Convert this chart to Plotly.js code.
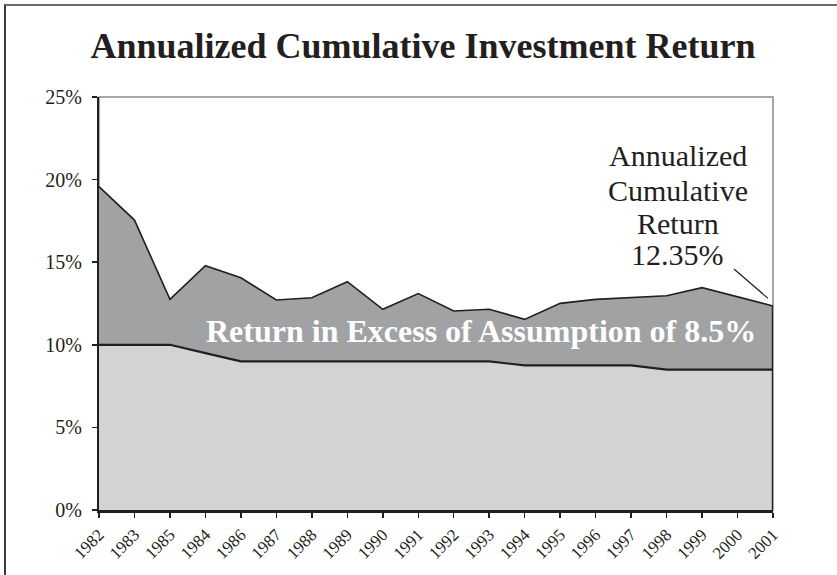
<!DOCTYPE html>
<html>
<head>
<meta charset="utf-8">
<script src="https://cdn.plot.ly/plotly-3.0.1.min.js"></script>
<style>
  html, body { margin: 0; padding: 0; background: #fff; }
  #wrap { position: relative; width: 837px; height: 575px; overflow: hidden; }
  #chart { width: 837px; height: 575px; }
  #frame { position: absolute; left: 4px; top: 4px; width: 840px; height: 580px;
           border-left: 2px solid #3a3a3a; border-top: 2px solid #6a6a6a; pointer-events: none; }
</style>
</head>
<body>
<div id="wrap">
  <div id="chart"></div>
  <div id="frame"></div>
</div>
<script>
// Data
const years = ['1982','1983','1985','1984','1986','1987','1988','1989','1990','1991',
               '1992','1993','1994','1995','1996','1997','1998','1999','2000','2001'];
const cumulativeReturn = [19.57, 17.55, 12.75, 14.79, 14.06, 12.71, 12.85, 13.82, 12.15, 13.10,
                          12.05, 12.15, 11.54, 12.51, 12.75, 12.87, 12.97, 13.46, 12.91, 12.35];
const assumedReturn = [10, 10, 10, 9.5, 9, 9, 9, 9, 9, 9,
                       9, 9, 8.75, 8.75, 8.75, 8.75, 8.5, 8.5, 8.5, 8.5];
const yTicks = [0, 5, 10, 15, 20, 25];
const yTickText = ['0%', '5%', '10%', '15%', '20%', '25%'];
const titleText = 'Annualized Cumulative Investment Return';
const excessLabel = 'Return in Excess of Assumption of 8.5%';
const sideLabelLines = ['Annualized', 'Cumulative', 'Return', '12.35%'];

const ink = '#231f20';
const serif = 'Liberation Serif, Times New Roman, Times, serif';
const last = years.length - 1;

const traces = [
  {
    x: years, y: cumulativeReturn, type: 'scatter', mode: 'lines',
    fill: 'tozeroy', fillcolor: '#a1a2a4',
    line: { color: ink, width: 1.6 }
  },
  {
    x: years, y: assumedReturn, type: 'scatter', mode: 'lines',
    fill: 'tozeroy', fillcolor: '#d2d3d5',
    line: { color: ink, width: 2.2 }
  },
  {
    x: [years[last], years[last]], y: [0, cumulativeReturn[last]],
    type: 'scatter', mode: 'lines', line: { color: ink, width: 2.4 }
  }
];

// side label positions (one annotation per line)
const sideY = [21.43, 19.37, 17.37, 15.44];
const annotations = [
  {
    x: 10.76, y: 10.84, xref: 'x', yref: 'y', showarrow: false,
    text: '<b>' + excessLabel + '</b>',
    font: { family: serif, size: 32, color: '#ffffff' },
    xanchor: 'center', yanchor: 'middle'
  }
].concat(sideLabelLines.map((t, i) => ({
  x: 16.31, y: sideY[i], xref: 'x', yref: 'y', showarrow: false,
  text: t, font: { family: serif, size: 30, color: ink },
  xanchor: 'center', yanchor: 'middle'
})));

const layout = {
  width: 837, height: 575,
  margin: { l: 99, r: 64, t: 97, b: 65, pad: 0 },
  paper_bgcolor: '#ffffff', plot_bgcolor: '#ffffff',
  showlegend: false, hovermode: false,
  title: {
    text: '<b>' + titleText + '</b>',
    font: { family: serif, size: 36, color: ink },
    x: 0.5054, xref: 'container', xanchor: 'center',
    y: 0.921, yref: 'container', yanchor: 'middle'
  },
  xaxis: {
    type: 'category', range: [0, last],
    showgrid: false, zeroline: false,
    showline: true, linecolor: ink, linewidth: 3,
    ticks: 'outside', ticklen: 5, tickwidth: 1.5, tickcolor: ink,
    tickangle: -45,
    tickfont: { family: serif, size: 17, color: ink }
  },
  yaxis: {
    range: [0, 25], tickmode: 'array', tickvals: yTicks, ticktext: yTickText,
    showgrid: false, zeroline: false,
    showline: true, linecolor: ink, linewidth: 2,
    ticks: 'outside', ticklen: 5, tickwidth: 1.5, tickcolor: ink,
    ticklabelstandoff: 6,
    tickfont: { family: serif, size: 20, color: ink }
  },
  shapes: [
    { type: 'rect', xref: 'paper', yref: 'paper', x0: 0, x1: 1, y0: 0, y1: 1,
      line: { color: '#8a8a8a', width: 1.5 }, layer: 'below' },
    { type: 'line', xref: 'x', yref: 'y', x0: 17.9, y0: 14.59, x1: 18.86, y1: 12.81,
      line: { color: ink, width: 1.2 } }
  ],
  annotations: annotations
};

Plotly.newPlot('chart', traces, layout, { staticPlot: true, displayModeBar: false });
</script>
</body>
</html>
